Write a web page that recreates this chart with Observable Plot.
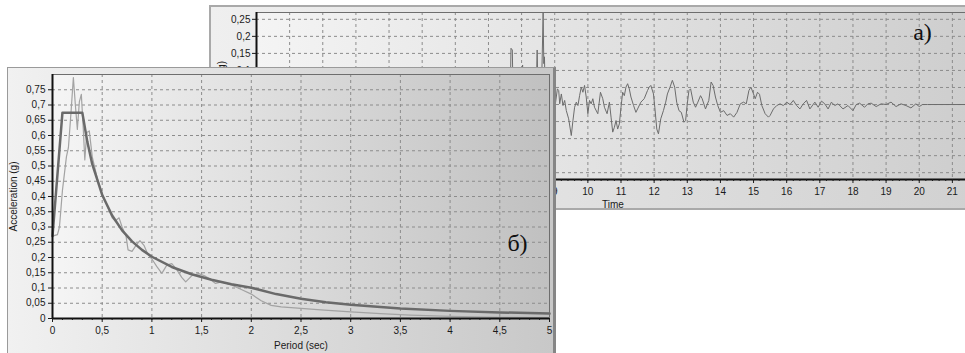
<!DOCTYPE html>
<html>
<head>
<meta charset="utf-8">
<script src="https://cdn.jsdelivr.net/npm/d3@7"></script>
<script src="https://cdn.jsdelivr.net/npm/@observablehq/plot@0.6"></script>
<style>
  html, body { margin: 0; padding: 0; background: #fff; }
  #wrap { position: relative; width: 965px; height: 353px; overflow: hidden; background: #fff; }
  #panelA { position: absolute; left: 209px; top: 5px; width: 785px; height: 201px;
            border-top: 2px solid #a9a9a9; border-left: 2px solid #a9a9a9; border-bottom: 2px solid #a9a9a9; }
  #panelB { position: absolute; left: 7px; top: 67px; width: 545px; height: 290px;
            border-top: 1px solid #9a9a9a; border-left: 1px solid #9a9a9a; border-right: 3px solid #868686; }
  svg { display: block; max-width: none !important; }
</style>
</head>
<body>
<div id="wrap">
  <div id="panelA"></div>
  <div id="panelB"></div>
</div>
<script>
// ---------- data: panel а) ground acceleration time history ----------
const timeTicks = [0,1,2,3,4,5,6,7,8,9,10,11,12,13,14,15,16,17,18,19,20,21];
const accelTicksA = [-0.2,-0.15,-0.1,-0.05,0,0.05,0.1,0.15,0.2,0.25];
const groundMotion = [
[7.50,0.00],[7.62,0.02],[7.67,0.10],[7.68,0.165],[7.72,0.16],[7.73,0.10],[7.76,0.01],[7.9,-0.02],[8.0,0.02],[8.03,0.116],[8.06,0.0],
[8.2,-0.03],[8.35,0.02],[8.44,0.03],[8.47,0.16],[8.5,0.01],[8.6,0.04],[8.65,0.27],[8.67,0.12],[8.69,0.14],[8.72,0.0],[8.85,-0.04],[9.0,0.03],
[9.02,0.002],[9.08,0.046],[9.12,0.041],[9.15,0.002],[9.2,0.031],[9.25,-0.003],[9.3,0.012],[9.35,-0.018],[9.42,-0.042],[9.5,-0.091],
[9.55,-0.047],[9.6,-0.008],[9.65,0.007],[9.7,-0.003],[9.75,0.026],[9.8,0.051],[9.85,0.036],[9.9,0.056],[9.95,0.022],[10.0,-0.027],
[10.05,0.012],[10.1,0.002],[10.15,0.017],[10.2,-0.008],[10.3,-0.027],[10.38,0.036],[10.45,0.017],[10.5,-0.008],[10.58,-0.027],
[10.65,0.007],[10.7,-0.037],[10.75,-0.081],[10.8,-0.067],[10.85,-0.047],[10.9,-0.072],[10.95,-0.057],[11.0,-0.008],[11.05,0.036],
[11.1,0.026],[11.15,0.051],[11.2,0.061],[11.25,0.046],[11.3,0.022],[11.38,-0.003],[11.45,-0.023],[11.5,-0.013],[11.6,0.007],
[11.7,0.017],[11.8,0.041],[11.85,0.051],[11.9,0.056],[11.98,0.031],[12.02,-0.008],[12.08,-0.072],[12.13,-0.086],[12.2,-0.042],
[12.28,-0.018],[12.35,0.007],[12.4,0.031],[12.48,0.051],[12.55,0.071],[12.62,0.051],[12.68,0.007],[12.75,-0.018],[12.82,-0.023],
[12.9,-0.052],[12.95,-0.047],[13.0,0.002],[13.05,0.041],[13.1,0.046],[13.18,0.007],[13.25,-0.008],[13.32,0.007],[13.4,0.026],
[13.45,0.017],[13.55,-0.013],[13.65,0.012],[13.72,0.066],[13.78,0.056],[13.85,0.022],[13.92,-0.003],[14.0,-0.023],[14.1,-0.018],
[14.2,-0.032],[14.3,-0.027],[14.4,-0.037],[14.5,-0.023],[14.6,0.002],[14.7,0.007],[14.78,0.002],[14.86,0.041],[14.92,0.051],
[15.0,0.031],[15.05,0.017],[15.12,0.036],[15.18,0.030],[15.25,-0.003],[15.35,-0.027],[15.45,-0.037],[15.5,-0.032],[15.6,-0.013],
[15.7,-0.003],[15.8,0.002],[15.9,-0.003],[16.0,0.007],[16.1,0.0],[16.2,0.012],[16.3,-0.003],[16.4,-0.013],[16.5,0.002],[16.6,0.012],
[16.7,-0.013],[16.85,0.007],[16.95,-0.008],[17.05,0.010],[17.15,0.002],[17.25,-0.013],[17.35,0.007],[17.45,-0.003],[17.55,0.002],
[17.7,-0.013],[17.85,-0.003],[18.0,-0.018],[18.1,0.0],[18.2,0.004],[18.35,-0.008],[18.45,0.002],[18.55,0.004],[18.7,-0.006],
[18.85,0.002],[19.0,0.0],[19.15,0.007],[19.3,-0.006],[19.45,0.002],[19.6,-0.003],[19.75,-0.010],[19.9,0.002],[20.0,-0.006],
[20.1,0.0],[20.25,0.0],[21.5,0.0],[22,0.0]
];

// ---------- data: panel б) response spectra ----------
const periodTicks = [0,0.5,1,1.5,2,2.5,3,3.5,4,4.5,5];
const accelTicksB = [0,0.05,0.1,0.15,0.2,0.25,0.3,0.35,0.4,0.45,0.5,0.55,0.6,0.65,0.7,0.75];
const recordSpectrum = [
[0,0.27],[0.05,0.275],[0.07,0.3],[0.1,0.42],[0.14,0.53],[0.16,0.56],[0.185,0.67],[0.21,0.79],[0.23,0.70],[0.25,0.62],
[0.27,0.71],[0.29,0.735],[0.31,0.62],[0.325,0.52],[0.345,0.61],[0.37,0.615],[0.40,0.53],[0.45,0.46],[0.5,0.41],[0.55,0.37],
[0.6,0.33],[0.63,0.32],[0.67,0.33],[0.7,0.30],[0.74,0.27],[0.76,0.225],[0.8,0.22],[0.84,0.24],[0.88,0.255],[0.92,0.24],
[0.96,0.21],[1.0,0.195],[1.05,0.17],[1.1,0.148],[1.15,0.175],[1.2,0.18],[1.25,0.16],[1.3,0.135],[1.34,0.12],[1.4,0.14],
[1.47,0.147],[1.53,0.14],[1.58,0.13],[1.64,0.115],[1.7,0.12],[1.8,0.11],[1.9,0.095],[2.0,0.08],[2.1,0.058],[2.2,0.043],
[2.3,0.038],[2.5,0.033],[2.7,0.028],[3.0,0.022],[3.3,0.016],[3.6,0.011],[4.0,0.007],[4.5,0.004],[5.0,0.003]
];
const designSpectrum = [
[0,0.27],[0.1,0.675],[0.3,0.675],[0.35,0.58],[0.4,0.506],[0.5,0.405],[0.6,0.3375],[0.7,0.289],[0.8,0.253],[0.9,0.225],
[1.0,0.2025],[1.2,0.169],[1.4,0.145],[1.6,0.127],[1.8,0.1125],[2.0,0.101],[2.25,0.08],[2.5,0.065],[2.75,0.0535],
[3.0,0.045],[3.5,0.033],[4.0,0.025],[4.5,0.02],[5.0,0.016]
];

const fmt = d => String(+(+d).toFixed(2)).replace(".", ",");
const toXY = a => a.map(([x, y]) => ({x, y}));
const gridStyle = {stroke: "#8c8c8c", strokeOpacity: 1, strokeDasharray: "3,3"};
const font = "Liberation Sans, Arial, sans-serif";

function gradient(id, c0, c1) {
  return () => {
    const defs = d3.create("svg:defs");
    const g = defs.append("linearGradient").attr("id", id).attr("x1", 0).attr("x2", 1).attr("y1", 0).attr("y2", 0);
    g.append("stop").attr("offset", 0).attr("stop-color", c0);
    g.append("stop").attr("offset", 1).attr("stop-color", c1);
    return defs.node();
  };
}

// ---------- panel а) ----------
const yDomA = [-0.22, 0.27];
const xDomA = [0, 22];
const plotA = Plot.plot({
  width: 785, height: 201,
  marginLeft: 45, marginRight: 11, marginTop: 5, marginBottom: 29,
  style: {fontFamily: font, fontSize: "10px", color: "#1a1a1a",
          background: "linear-gradient(90deg, #efefef, #d0d0d0)", overflow: "visible"},
  x: {domain: xDomA},
  y: {domain: yDomA},
  marks: [
    gradient("gA", "#f4f4f4", "#cdcdcd"),
    Plot.frame({fill: "url(#gA)"}),
    Plot.gridX(timeTicks, gridStyle),
    Plot.gridY(accelTicksA, gridStyle),
    Plot.line(toXY(groundMotion), {x: "x", y: "y", stroke: "#6c6c6c", strokeWidth: 1, clip: true}),
    Plot.frame({stroke: "#6e6e6e"}),
    Plot.ruleX([xDomA[0]], {stroke: "#111", strokeWidth: 2}),
    Plot.ruleY([yDomA[0]], {stroke: "#111", strokeWidth: 2}),
    Plot.axisY(accelTicksA, {tickSize: 4, tickPadding: 2, tickFormat: fmt, label: null}),
    Plot.axisX(timeTicks, {tickSize: 4, tickPadding: 4, tickFormat: fmt, label: null}),
    Plot.axisX(d3.range(0, 111).map(i => i / 5), {tickSize: 2, tickFormat: () => "", label: null}),
    Plot.text(["Time"], {text: d => d, frameAnchor: "bottom", lineAnchor: "middle", textAnchor: "middle", dx: -8, dy: 25}),
    Plot.text(["Acceleration (g)"], {text: d => d, frameAnchor: "left", rotate: -90, textAnchor: "middle", lineAnchor: "middle", dx: -35}),
    Plot.text(["а)"], {text: d => d, frameAnchor: "top-left", textAnchor: "middle", lineAnchor: "middle", dx: 666, dy: 20,
                       fontFamily: "Liberation Serif, serif", fontSize: 24, fill: "#111"})
  ]
});
document.getElementById("panelA").appendChild(plotA);

// ---------- panel б) ----------
const yDomB = [0, 0.8];
const xDomB = [0, 5];
const plotB = Plot.plot({
  width: 545, height: 290,
  marginLeft: 44, marginRight: 4, marginTop: 6, marginBottom: 40,
  style: {fontFamily: font, fontSize: "10px", color: "#1a1a1a",
          background: "linear-gradient(90deg, #f1f1f1, #c8c8c8)"},
  x: {domain: xDomB},
  y: {domain: yDomB},
  marks: [
    gradient("gB", "#f5f5f5", "#c0c0c0"),
    Plot.frame({fill: "url(#gB)"}),
    Plot.gridX(periodTicks, gridStyle),
    Plot.gridY(accelTicksB, gridStyle),
    Plot.line(toXY(recordSpectrum), {x: "x", y: "y", stroke: "#a3a3a3", strokeWidth: 1.2}),
    Plot.line(toXY(designSpectrum), {x: "x", y: "y", stroke: "#6a6a6a", strokeWidth: 2.5}),
    Plot.frame({stroke: "#6e6e6e"}),
    Plot.ruleX([xDomB[0]], {stroke: "#111", strokeWidth: 2}),
    Plot.ruleY([yDomB[0]], {stroke: "#111", strokeWidth: 2}),
    Plot.axisY(accelTicksB, {tickSize: 4, tickPadding: 3, tickFormat: fmt, label: null}),
    Plot.axisX(periodTicks, {tickSize: 4, tickPadding: 4, tickFormat: fmt, label: null}),
    Plot.axisX(d3.range(0, 51).map(i => i / 10), {tickSize: 2, tickFormat: () => "", label: null}),
    Plot.text(["Period (sec)"], {text: d => d, frameAnchor: "bottom", lineAnchor: "middle", textAnchor: "middle", dy: 27}),
    Plot.text(["Acceleration (g)"], {text: d => d, frameAnchor: "left", rotate: -90, textAnchor: "middle", lineAnchor: "middle", dx: -39}),
    Plot.text(["б)"], {text: d => d, frameAnchor: "right", textAnchor: "middle", lineAnchor: "middle", dx: -32, dy: 47,
                       fontFamily: "Liberation Serif, serif", fontSize: 24, fill: "#111"})
  ]
});
document.getElementById("panelB").appendChild(plotB);
</script>
</body>
</html>
